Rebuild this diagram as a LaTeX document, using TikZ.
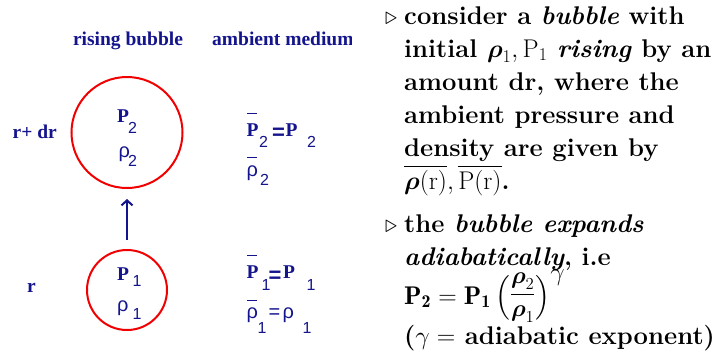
\RequirePackage{fix-cm}
\documentclass[tikz,border=0pt]{standalone}
\usepackage{amsmath}
\usepackage{fontspec}
\newfontfamily\tms{Liberation Serif}
\newfontfamily\arl{Liberation Sans}
\usetikzlibrary{arrows.meta}
\definecolor{navy}{RGB}{20,20,140}
\definecolor{bred}{RGB}{240,0,0}
\tikzset{
 lbl/.style={inner sep=0pt, anchor=base west, text=navy, font=\tms\bfseries\fontsize{19.5bp}{20bp}\selectfont},
 eqs/.style={inner sep=0pt, anchor=base west, text=navy, font=\arl\bfseries\fontsize{22bp}{22bp}\selectfont},
 subn/.style={inner sep=0pt, anchor=base west, text=navy, font=\arl\fontsize{16bp}{16bp}\selectfont},
 rho/.style={inner sep=0pt, anchor=base west, text=navy, font=\arl\fontsize{20bp}{20bp}\selectfont},
 bubble/.style={circle, draw=bred, line width=2bp, inner sep=0pt},
 bar/.style={draw=navy, line width=1bp},
 rt/.style={inner sep=0pt, anchor=base west, font=\bfseries\fontsize{25.6bp}{33bp}\selectfont},
 tri/.style={inner sep=0pt, anchor=base west, font=\fontsize{24.8bp}{33bp}\selectfont},
}
\newcommand{\bro}{\boldsymbol{\rho}}
\begin{document}
\begin{tikzpicture}[x=1bp,y=-1bp]
\useasboundingbox (0,0) rectangle (721,357);
% headings
\node[lbl, anchor=base] (hrb) at (128,45) {rising bubble};
\begin{scope}
\clip (200,20) rectangle (351,60);
\node[lbl] (ham) at (212,45) {ambient medium};
\end{scope}
\node[lbl] (rdr) at (12.5,138) {r+ dr};
\node[lbl] (rr) at (27,292) {r};
% bubbles
\node[bubble, minimum size=111bp] (top) at (127,132.5) {};
\node[bubble, minimum size=80bp] (bot) at (127,290) {};
\draw[navy, line width=2bp, -{Straight Barb[length=5bp,width=11bp]}, shorten <=9bp, shorten >=10bp] (bot) -- (top);
% inside top bubble
\node[lbl] (p2) at (117,122.7) {P};
\node[subn] (p2s) at (128,133) {2};
\node[rho] (r2) at (118.5,157) {ρ};
\node[subn] (r2s) at (128,166) {2};
% inside bottom bubble
\node[lbl] (p1) at (117,280) {P};
\node[subn] (p1s) at (132.5,286) {1};
\node[rho] (r1) at (117,311) {ρ};
\node[subn] (r1s) at (132.5,319) {1};
% ambient top
\node[lbl] (ap2) at (246.5,136) {P};
\node[subn] (ap2s) at (259,147) {2};
\node[eqs] (eq2) at (272,139) {=};
\node[lbl] (bp2) at (285.5,136) {P};
\node[subn] (bp2s) at (307,147) {2};
\draw[bar] (247,113) -- (257,113);
\node[rho] (ar2) at (246.5,176) {ρ};
\node[subn] (ar2s) at (260,185) {2};
\draw[bar] (247,157) -- (257,157);
% ambient bottom
\node[lbl] (ap1) at (246.5,278) {P};
\node[subn] (ap1s) at (261.5,290) {1};
\node[eqs] (eq1) at (268.5,282) {=};
\node[lbl] (bp1) at (283,278) {P};
\node[subn] (bp1s) at (306.5,290) {1};
\draw[bar] (247,255) -- (257,255);
\node[rho] (ar1) at (246.5,318) {ρ};
\node[subn] (ar1s) at (257.5,333) {1};
\node[rho] (eq3) at (268.5,318) {=};
\node[rho] (br1) at (282.5,318) {ρ};
\node[subn] (br1s) at (302.5,333) {1};
\draw[bar] (247,300) -- (257,300);
% right text
\node[tri] (b1) at (385,24) {$\triangleright$};
\node[rt] (l1) at (404,24) {consider a \textit{bubble} with};
\node[rt] (l2) at (404,57) {initial $\bro_1,\mathrm{P}_1$ \textit{rising} by an};
\node[rt] (l3) at (404,90) {amount dr, where the};
\node[rt] (l4) at (404,123) {ambient pressure and};
\node[rt] (l5) at (404,156) {density are given by};
\node[rt] (l6) at (404,189) {$\overline{\bro(\mathrm{r})},\overline{\mathrm{P}(\mathrm{r})}$.};
\node[tri] (b2) at (385,232) {$\triangleright$};
\node[rt] (m1) at (404,232) {the \textit{bubble expands}};
\node[rt] (m2) at (404,265) {\textit{adiabatically}, i.e};
\node[rt] (m3) at (404,304) {$\mathbf{P_2}=\mathbf{P_1}\left(\vcenter{\hbox{\fontsize{24bp}{24bp}\selectfont$\displaystyle\frac{\bro_2}{\bro_1}$}}\right)^{\mbox{$\gamma$}}$};
\node[rt] (m4) at (404,344) {($\gamma=$ adiabatic exponent)};
\end{tikzpicture}
\end{document}
